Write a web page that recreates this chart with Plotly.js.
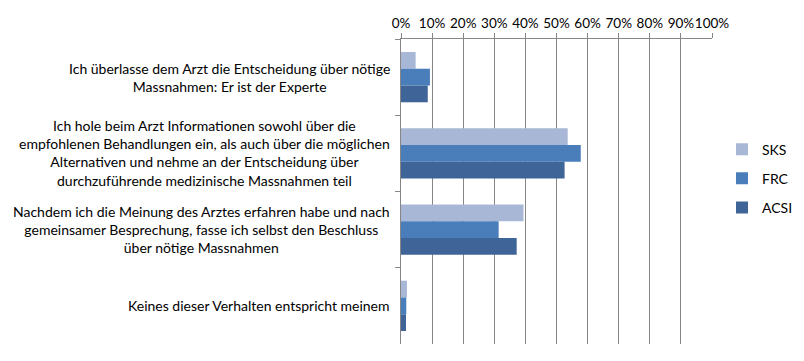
<!DOCTYPE html>
<html>
<head>
<meta charset="utf-8">
<script src="https://cdn.plot.ly/plotly-3.0.1.min.js"></script>
<style>html,body{margin:0;padding:0;background:#fff;}#chart{width:804px;height:361px;}</style>
</head>
<body>
<div id="chart"></div>
<script>
var categories = [
  "Ich überlasse dem Arzt die Entscheidung über nötige<br>Massnahmen: Er ist der Experte",
  "Ich hole beim Arzt Informationen sowohl über die<br>empfohlenen Behandlungen ein, als auch über die möglichen<br>Alternativen und nehme an der Entscheidung über<br>durchzuführende medizinische Massnahmen teil",
  "Nachdem ich die Meinung des Arztes erfahren habe und nach<br>gemeinsamer Besprechung, fasse ich selbst den Beschluss<br>über nötige Massnahmen",
  "Keines dieser Verhalten entspricht meinem"
];
var catKeys = ["c1", "c2", "c3", "c4"];
var seriesNames = ["SKS", "FRC", "ACSI"];
var sksValues = [0.047, 0.536, 0.394, 0.019];
var frcValues = [0.093, 0.578, 0.314, 0.017];
var acsiValues = [0.086, 0.526, 0.372, 0.016];
var colors = ["#A9B7D6", "#4A7EBB", "#3F6598"];

var FONT = "Lato, 'Open Sans', sans-serif";
var allValues = [sksValues, frcValues, acsiValues];
var traces = allValues.map(function (vals, i) {
  return {
    type: "bar",
    orientation: "h",
    name: seriesNames[i],
    x: vals,
    y: catKeys,
    marker: {color: colors[i], line: {width: 0}},
    legendgroup: "g" + i,
    hoverinfo: "x+name"
  };
});

var annotations = categories.map(function (txt, i) {
  return {
    xref: "paper", yref: "y",
    x: -0.03, y: catKeys[i],
    xanchor: "right", yanchor: "middle",
    align: "center",
    text: txt,
    showarrow: false,
    font: {family: FONT, size: 14, color: "#000"}
  };
});

var layout = {
  width: 804, height: 361,
  margin: {l: 401, r: 92, t: 39, b: 17, pad: 0, autoexpand: false},
  paper_bgcolor: "#fff", plot_bgcolor: "#fff",
  barmode: "group",
  bargap: 0.34, bargroupgap: 0,
  font: {family: FONT, size: 14, color: "#000"},
  xaxis: {
    side: "top",
    range: [0, 1],
    dtick: 0.1, tick0: 0,
    tickformat: ".0%",
    tickangle: 0,
    automargin: false,
    showgrid: true, gridcolor: "#868686", gridwidth: 1,
    showline: true, linecolor: "#868686", linewidth: 1,
    ticks: "outside", ticklen: 5, tickcolor: "#868686",
    zeroline: false,
    tickfont: {family: FONT, size: 13.5, color: "#000"},
    fixedrange: true
  },
  yaxis: {
    type: "category",
    autorange: "reversed",
    automargin: false,
    showticklabels: false,
    showline: true, linecolor: "#868686", linewidth: 1,
    ticks: "outside", ticklen: 5, tickcolor: "#868686",
    tickson: "boundaries",
    showgrid: false,
    zeroline: false,
    fixedrange: true
  },
  legend: {
    xref: "container", yref: "container",
    x: 0.898, xanchor: "left",
    y: 0.63, yanchor: "top",
    traceorder: "grouped",
    tracegroupgap: 8,
    font: {family: FONT, size: 14, color: "#000"},
    bgcolor: "rgba(0,0,0,0)"
  },
  showlegend: true,
  annotations: annotations
};

Plotly.newPlot("chart", traces, layout, {displayModeBar: false, staticPlot: true});
</script>
</body>
</html>
